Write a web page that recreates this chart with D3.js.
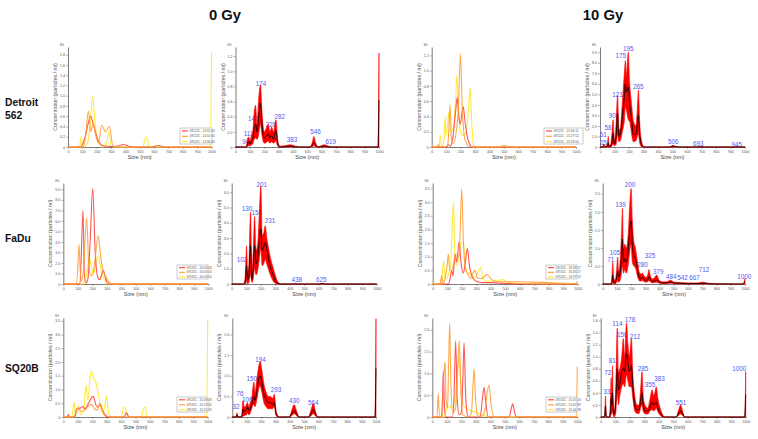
<!DOCTYPE html>
<html><head><meta charset="utf-8">
<script src="https://cdn.jsdelivr.net/npm/d3@7"></script>
<style>body{margin:0;background:#fff}svg{display:block}</style>
</head><body>
<svg id="c" width="758" height="439"></svg>
<script>
// ---------------- DATA ----------------
const columnTitles = ["0 Gy", "10 Gy"];
const rowTitles = [["Detroit", "562"], ["FaDu"], ["SQ20B"]];
const sizeTicks = [0,100,200,300,400,500,600,700,800,900,1000];
const xTitle = "Size (nm)";
const yTitle = "Concentration (particles / ml)";

// Detroit 562, 0 Gy – individual runs [size, conc]
const det0Red = [[0,0],[85,0],[100,0.05],[120,0.2],[140,0.45],[158,0.6],[175,0.45],[195,0.25],[215,0.1],[240,0.03],[300,0.01],[350,0.02],[385,0.05],[420,0.02],[460,0],[590,0],[630,0.03],[670,0],[1000,0]];
const det0Orange = [[0,0],[100,0],[120,0.15],[142,0.7],[158,0.3],[175,0.45],[195,0.2],[212,0.08],[235,0.43],[260,0.3],[290,0.4],[310,0.05],[330,0],[580,0],[620,0.03],[660,0],[1000,0]];
const det0Yellow = [[0,0],[80,0],[91,0.2],[102,0],[130,0.05],[150,0.3],[172,1.0],[190,0.4],[210,0.1],[240,0],[268,0.05],[285,0.3],[300,0.02],[320,0],[520,0],[544,0.2],[568,0],[993,0],[1000,1.85]];
const det0Legend = ["091221 - 14:52:03","091221 - 14:50:05","091221 - 14:58:44"];
// Detroit 562, 0 Gy – averaged [size, lower, mean, upper]
const det0Avg = [[0,0,0,0],[75,0,0,0],[85,0.01,0.05,0.12],[94,0.02,0.07,0.13],[100,0.01,0.04,0.08],[111,0.03,0.08,0.15],[120,0.04,0.1,0.2],[130,0.1,0.25,0.45],[140,0.12,0.3,0.55],[150,0.1,0.2,0.3],[160,0.15,0.35,0.6],[174,0.3,0.58,0.82],[185,0.15,0.3,0.45],[200,0.05,0.12,0.2],[215,0.06,0.14,0.25],[228,0.08,0.17,0.3],[240,0.05,0.12,0.2],[252,0.07,0.15,0.26],[265,0.05,0.1,0.2],[282,0.08,0.22,0.36],[295,0.01,0.04,0.08],[310,0,0,0.01],[350,0,0.005,0.02],[383,0,0.01,0.03],[420,0,0,0.01],[450,0,0,0],[520,0,0,0],[535,0,0.03,0.06],[546,0.02,0.06,0.14],[558,0,0.03,0.06],[575,0,0,0],[600,0,0.005,0.02],[619,0,0.01,0.03],[650,0,0,0.01],[680,0,0,0],[993,0,0,0],[1000,0,0.62,1.24]];
const det0Peaks = [["94",72,0.07],["111",91,0.18],["140",124,0.37],["174",178,0.84],["228",247,0.30],["282",308,0.40],["383",394,0.10],["546",557,0.21],["619",664,0.07]];

// Detroit 562, 10 Gy
const det10Red = [[0,0],[100,0],[115,0.03],[130,0.01],[145,0.1],[165,0.45],[177,0.65],[188,0.4],[198,0.3],[210,0.45],[218,0.53],[230,0.35],[245,0.15],[260,0.05],[280,0],[1000,0]];
const det10Orange = [[0,0],[30,0],[46,0.03],[60,0],[110,0],[118,0.2],[127,0.55],[137,0.1],[150,0.05],[170,0.2],[185,0.5],[199,1.22],[212,0.5],[225,0.15],[240,0.05],[270,0],[470,0],[500,0.02],[540,0],[1000,0]];
const det10Yellow = [[0,0],[50,0],[60,0.15],[70,0],[85,0.1],[92,0.4],[100,0.15],[110,0.3],[118,0.45],[130,0.2],[150,0.25],[165,0.6],[175,0.95],[185,0.5],[200,0.2],[215,0.15],[240,0.2],[255,0.5],[266,0.78],[278,0.3],[290,0.02],[300,0],[1000,0]];
const det10Legend = ["091221 - 15:26:11","091221 - 15:27:52","091221 - 15:29:04"];
const det10Avg = [[0,0,0,0],[18,0,0,0],[25,0,0.1,0.3],[33,0,0,0.05],[45,0,0.05,0.15],[51,0,0.1,0.3],[57,0,0.4,1.0],[63,0,0.05,0.1],[75,0,0.1,0.3],[82,0.1,0.5,1.2],[90,0.3,1.3,2.6],[100,0.1,0.3,0.6],[112,0.3,1.2,2.5],[121,1.2,3.2,4.9],[130,0.5,1.0,1.6],[140,0.6,1.2,1.8],[155,1.5,3.0,4.5],[168,2.5,4.8,7.0],[175,3.8,6.0,8.2],[182,3.5,5.2,6.8],[195,2.6,5.7,9.0],[205,2.4,4.0,6.0],[215,1.5,3.0,4.5],[230,0.5,1.2,2.5],[248,0.6,1.2,2.0],[258,1.0,2.2,3.8],[265,1.2,3.0,5.4],[275,0.3,1.0,2.0],[288,0,0.2,0.5],[300,0,0,0.05],[320,0,0,0],[480,0,0,0],[495,0,0.05,0.12],[506,0,0.07,0.15],[520,0,0.03,0.08],[540,0,0,0],[670,0,0,0],[693,0,0.02,0.05],[720,0,0,0],[930,0,0,0],[945,0,0.01,0.03],[960,0,0,0],[1000,0,0,0]];
const det10Peaks = [["25",23,0.44],["51",23,1.23],["58",55,1.89],["90",85,2.96],["121",120,5.03],["175",143,8.74],["195",195,9.37],["265",264,5.75],["506",506,0.57],["693",678,0.35],["945",943,0.28]];

// FaDu, 0 Gy
const fa0Red = [[0,0],[115,0],[122,2.0],[136,7.0],[145,1.0],[155,0.1],[170,0.5],[185,4.0],[203,9.1],[220,3.0],[235,0.8],[250,0.4],[262,0.8],[276,1.3],[290,0.6],[305,0.1],[320,0],[1000,0]];
const fa0Orange = [[0,0],[90,0],[100,1.5],[108,3.8],[118,1.0],[128,0.3],[140,1.5],[161,6.3],[175,2.0],[190,0.8],[205,1.0],[220,2.5],[241,4.6],[255,3.0],[270,1.5],[290,0.8],[310,0.3],[333,0],[1000,0]];
const fa0Yellow = [[0,0],[140,0],[155,0.5],[170,1.8],[182,2.3],[195,1.5],[210,1.0],[225,2.0],[241,2.7],[255,1.8],[270,0.8],[290,0.3],[300,0],[1000,0]];
const fa0Legend = ["091321 - 16:03:34","091321 - 16:02:14","091321 - 16:03:50"];
const fa0Avg = [[0,0,0,0],[85,0,0,0],[95,0,0.3,0.8],[102,0.2,1.2,2.5],[110,0,0.3,0.8],[118,0.1,0.5,1.2],[130,0.6,2.5,4.7],[140,0.1,0.3,0.8],[148,0.3,1.0,2.0],[158,1.0,2.5,4.4],[168,0.6,1.3,2.2],[178,0.8,1.6,2.5],[190,1.6,2.8,4.5],[201,2.3,3.6,6.4],[210,1.2,2.2,3.2],[220,1.3,2.4,3.3],[231,1.6,2.7,3.8],[242,1.3,2.3,3.0],[255,0.9,1.6,2.3],[270,0.5,1.0,1.6],[285,0.2,0.6,1.1],[300,0.05,0.25,0.6],[315,0,0.05,0.2],[330,0,0,0.05],[345,0,0,0],[428,0,0,0],[438,0,0.01,0.03],[450,0,0,0],[600,0,0,0],[625,0,0.02,0.05],[650,0,0,0],[1000,0,0,0]];
const fa0Peaks = [["102",71,1.59],["130",105,4.94],["158",172,4.68],["201",208,6.5],["231",264,4.13],["438",448,0.31],["625",618,0.31]];

// FaDu, 10 Gy
const fa10Red = [[0,0],[110,0],[120,0.2],[131,0.5],[140,0.3],[155,1.1],[165,0.8],[182,1.55],[195,0.8],[211,0.4],[225,0.8],[239,1.3],[255,0.6],[280,0.2],[300,0.1],[340,0.05],[400,0.05],[500,0.02],[600,0],[1000,0]];
const fa10Orange = [[0,0],[50,0],[62,0.3],[70,0],[85,0.2],[100,0.7],[108,1.1],[118,0.5],[131,0.5],[150,0.9],[166,1.1],[180,1.0],[190,2.0],[200,3.5],[212,1.5],[225,0.6],[240,0.4],[260,0.2],[278,0.4],[292,0.5],[310,0.2],[340,0.2],[360,0.3],[377,0.35],[400,0.2],[430,0.1],[470,0.08],[520,0.08],[600,0.08],[700,0.07],[800,0.05],[900,0.03],[985,0.02],[1000,0.1]];
const fa10Yellow = [[0,0],[60,0],[74,0.85],[84,0.2],[97,0.2],[110,0.4],[125,0.8],[134,2.0],[143,3.0],[152,1.2],[162,0.7],[180,0.9],[195,1.5],[211,1.5],[225,0.7],[240,0.4],[257,0.4],[275,0.2],[300,0.3],[318,0.5],[331,0.6],[345,0.2],[370,0.1],[420,0.1],[470,0.15],[487,0.15],[520,0.05],[600,0.03],[700,0.01],[800,0],[1000,0]];
const fa10Legend = ["091321 - 16:33:57","091321 - 16:35:27","091321 - 16:37:13"];
const fa10Avg = [[0,0,0,0],[60,0,0,0],[66,0,0.1,0.3],[71,0.05,0.25,0.6],[78,0,0.05,0.15],[88,0,0.05,0.1],[98,0.05,0.2,0.4],[105,0.1,0.35,0.75],[112,0.05,0.2,0.35],[122,0.1,0.3,0.6],[132,0.3,0.8,1.4],[139,0.5,1.25,2.1],[146,0.3,0.6,1.0],[155,0.4,0.7,1.1],[165,0.3,0.6,1.0],[178,0.5,0.9,1.3],[190,0.9,1.5,2.2],[200,1.1,1.75,2.65],[208,0.6,1.1,1.8],[218,0.5,0.8,1.2],[230,0.45,0.7,1.0],[245,0.2,0.4,0.6],[260,0.08,0.15,0.3],[272,0.08,0.15,0.28],[280,0.1,0.18,0.3],[292,0.06,0.12,0.22],[305,0.05,0.1,0.18],[318,0.07,0.14,0.28],[325,0.1,0.2,0.4],[335,0.06,0.12,0.22],[350,0.03,0.07,0.14],[365,0.04,0.09,0.18],[379,0.05,0.11,0.25],[395,0.03,0.06,0.12],[420,0.01,0.03,0.06],[450,0.01,0.03,0.06],[470,0.02,0.05,0.1],[484,0.02,0.05,0.1],[500,0.01,0.03,0.05],[542,0,0.02,0.04],[600,0,0.01,0.03],[667,0,0.01,0.03],[700,0,0.02,0.05],[712,0,0.02,0.05],[740,0,0.01,0.02],[800,0,0,0.01],[985,0,0,0],[1000,0,0.07,0.15]];
const fa10Peaks = [["71",56,0.69],["105",87,0.88],["139",126,2.21],["200",192,2.75],["280",279,0.53],["325",333,0.79],["379",391,0.35],["484",482,0.22],["542",560,0.17],["667",646,0.17],["712",712,0.40],["1000",995,0.22]];

// SQ20B, 0 Gy
const sq0Red = [[0,0],[28,0],[35,0.1],[42,0],[80,0],[92,0.3],[110,0.3],[134,0.38],[150,0.3],[170,0.45],[190,0.65],[208,0.75],[225,0.45],[240,0.35],[254,0.45],[268,0.3],[290,0.05],[310,0],[420,0],[437,0.15],[455,0],[1000,0]];
const sq0Orange = [[0,0],[70,0],[85,0.15],[106,0.35],[125,0.2],[150,0.25],[175,0.4],[195,0.45],[215,0.3],[235,0.25],[254,0.5],[275,0.2],[300,0.05],[320,0],[1000,0]];
const sq0Yellow = [[0,0],[60,0],[74,0.55],[85,0.1],[95,0.1],[106,0.4],[118,0.1],[140,0.2],[157,1.15],[170,0.6],[185,1.4],[196,1.65],[210,1.4],[229,1.2],[250,0.6],[275,0.1],[290,0.5],[300,0.75],[312,0.2],[330,0],[400,0],[415,0.3],[427,0.35],[440,0.1],[460,0],[540,0],[555,0.3],[566,0.35],[580,0.05],[600,0],[993,0],[1000,3.55]];
const sq0Legend = ["091321 - 15:18:43","091321 - 15:19:42","091321 - 15:21:35"];
const sq0Avg = [[0,0,0,0],[25,0,0,0],[32,0,0.05,0.1],[40,0,0,0.01],[65,0,0,0],[72,0.02,0.15,0.35],[76,0.03,0.2,0.4],[82,0.02,0.12,0.25],[90,0.05,0.15,0.25],[98,0.05,0.18,0.3],[106,0.1,0.25,0.35],[115,0.05,0.15,0.25],[125,0.1,0.2,0.35],[135,0.2,0.3,0.45],[145,0.3,0.45,0.75],[150,0.3,0.5,0.85],[158,0.25,0.4,0.6],[170,0.4,0.6,0.9],[185,0.7,0.95,1.25],[194,0.75,1.0,1.35],[205,0.6,0.85,1.15],[220,0.35,0.55,0.8],[235,0.25,0.42,0.6],[250,0.2,0.35,0.5],[265,0.2,0.35,0.5],[280,0.2,0.3,0.45],[293,0.25,0.35,0.55],[303,0.05,0.1,0.2],[315,0,0.02,0.05],[330,0,0,0],[395,0,0,0],[410,0.02,0.06,0.12],[430,0.08,0.15,0.3],[450,0.02,0.06,0.12],[465,0,0,0],[530,0,0,0],[545,0.02,0.06,0.14],[564,0.08,0.18,0.33],[580,0.02,0.06,0.12],[595,0,0,0],[993,0,0,0],[1000,0,1.18,2.38]];
const sq0Peaks = [["32",26,0.26],["76",53,0.57],["106",104,0.43],["150",135,0.94],["194",197,1.39],["293",304,0.66],["430",432,0.39],["564",564,0.34]];

// SQ20B, 10 Gy
const sq10Red = [[0,0],[62,0],[70,0.4],[76,1.05],[83,0.3],[92,0],[140,0],[150,0.5],[161,1.75],[172,0.4],[185,0.05],[200,0.1],[210,0.8],[219,1.7],[230,0.5],[245,0.02],[260,0],[330,0],[345,0.4],[357,0.68],[370,0.3],[385,0],[530,0],[545,0.2],[554,0.3],[565,0.15],[580,0],[1000,0]];
const sq10Orange = [[0,0],[32,0],[41,0.53],[50,0],[70,0],[78,0.8],[83,1.1],[88,1.27],[95,0.4],[105,0.2],[113,1.3],[120,2.15],[128,0.8],[140,0.1],[160,0.2],[175,1.1],[186,1.75],[197,0.6],[210,0.05],[250,0],[270,0.1],[280,0.7],[288,1.1],[297,0.5],[310,0.05],[340,0],[365,0.2],[380,0.6],[391,0.73],[405,0.3],[425,0],[993,0],[1000,1.15]];
const sq10Yellow = [[0,0],[80,0],[95,0.15],[105,0.22],[118,0.25],[130,0.2],[150,0.3],[165,0.7],[178,1.2],[186,1.37],[195,0.9],[210,0.3],[230,0.2],[260,0.15],[290,0.12],[310,0.1],[340,0.05],[370,0.02],[400,0],[1000,0]];
const sq10Legend = ["091321 - 15:41:13","091321 - 15:42:39","091321 - 15:44:38"];
const sq10Avg = [[0,0,0,0],[26,0,0,0],[30,0,0.1,0.2],[33,0.02,0.18,0.35],[37,0,0.05,0.1],[42,0,0,0],[60,0,0,0],[66,0,0.08,0.2],[72,0.05,0.3,0.65],[76,0.05,0.2,0.4],[81,0.1,0.4,0.85],[87,0.02,0.1,0.25],[95,0,0.05,0.1],[105,0.1,0.3,0.6],[114,0.4,0.8,1.47],[122,0.2,0.45,0.75],[132,0.35,0.55,0.8],[145,0.5,0.75,1.0],[156,0.55,0.8,1.3],[165,0.5,0.75,1.0],[178,0.7,1.05,1.56],[188,0.6,0.9,1.2],[198,0.5,0.75,1.0],[212,0.5,0.85,1.3],[222,0.3,0.5,0.7],[235,0.1,0.2,0.35],[250,0.06,0.12,0.2],[265,0.06,0.12,0.2],[275,0.15,0.28,0.45],[285,0.2,0.4,0.75],[295,0.08,0.15,0.3],[310,0.05,0.1,0.18],[325,0.05,0.1,0.15],[340,0.1,0.15,0.3],[355,0.12,0.25,0.45],[365,0.1,0.2,0.35],[375,0.12,0.22,0.42],[383,0.15,0.25,0.5],[395,0.08,0.15,0.3],[410,0.03,0.07,0.15],[425,0,0.02,0.05],[440,0,0,0],[520,0,0,0],[535,0.02,0.05,0.1],[551,0.05,0.1,0.2],[565,0.02,0.05,0.1],[580,0,0,0],[993,0,0,0],[1000,0,0.37,0.75]];
const sq10Peaks = [["33",41,0.43],["72",48,0.73],["81",80,0.93],["114",115,1.55],["156",149,1.36],["178",202,1.61],["212",237,1.34],["285",292,0.81],["355",340,0.54],["383",405,0.64],["551",554,0.24],["1000",956,0.80]];

// y-axis tick values per panel
const ytDet0Runs = [0,0.2,0.4,0.6,0.8,1.0,1.2,1.4,1.6,1.8];
const ytDet0Avg = [0,0.2,0.4,0.6,0.8,1.0,1.2];
const ytDet10Runs = [0,0.2,0.4,0.6,0.8,1.0,1.2];
const ytDet10Avg = [0,1,2,3,4,5,6,7,8,9];
const ytFa0Runs = [0,1,2,3,4,5,6,7,8,9];
const ytFa0Avg = [0,1,2,3,4,5,6];
const ytFa10Runs = [0,0.5,1.0,1.5,2.0,2.5,3.0,3.5];
const ytFa10Avg = [0,0.5,1.0,1.5,2.0,2.5];
const ytSq0Runs = [0,0.5,1.0,1.5,2.0,2.5,3.0,3.5];
const ytSq0Avg = [0,0.5,1.0,1.5,2.0];
const ytSq10Runs = [0,0.5,1.0,1.5,2.0];
const ytSq10Avg = [0,0.2,0.4,0.6,0.8,1.0,1.2,1.4,1.6];

// ---------------- DRAWING ----------------
const svg = d3.select("#c");
const FONT = "'Liberation Sans', Arial, sans-serif";
const runColors = ["#ff3a3a", "#ff9a2e", "#ffe81a"];

function frame(box, yMax, yTicks) {
  const [x0, x1, yTop, yBot] = box;
  const g = svg.append("g");
  const x = d3.scaleLinear().domain([0, 1000]).range([x0, x1]);
  const y = d3.scaleLinear().domain([0, yMax]).range([yBot, yTop]);
  const fmt = v => v === 0 ? "0" : d3.format(".1f")(v);
  const ax = g.append("g").attr("transform", `translate(0,${yBot})`)
    .call(d3.axisBottom(x).tickValues(sizeTicks).tickFormat(d3.format("d")).tickSize(1.8).tickSizeOuter(0).tickPadding(1.2));
  const ay = g.append("g").attr("transform", `translate(${x0},0)`)
    .call(d3.axisLeft(y).tickValues(yTicks).tickFormat(fmt).tickSize(1.8).tickSizeOuter(0).tickPadding(1.2));
  [ax, ay].forEach(a => {
    a.selectAll("path.domain").attr("stroke", "#444").attr("stroke-width", 0.7);
    a.selectAll(".tick line").attr("stroke", "#555").attr("stroke-width", 0.5);
    a.selectAll(".tick text").attr("font-size", 3.6).attr("fill", "#555").attr("font-family", FONT);
  });
  g.append("text").attr("x", (x0 + x1) / 2).attr("y", yBot + 11.5)
    .attr("text-anchor", "middle").attr("font-size", 5.6).attr("fill", "#444")
    .attr("font-family", FONT).text(xTitle);
  g.append("text").attr("transform", `translate(${x0 - 11},${(yTop + yBot) / 2}) rotate(-90)`)
    .attr("text-anchor", "middle").attr("font-size", 5.3).attr("fill", "#555")
    .attr("font-family", FONT).text(yTitle);
  g.append("text").attr("x", x0 - 8).attr("y", yTop - 1).attr("font-size", 3.2)
    .attr("fill", "#666").attr("font-family", FONT).text("E6");
  return { g, x, y };
}

function runsPanel(box, yMax, yTicks, runs, legendText, leg) {
  const { g, x, y } = frame(box, yMax, yTicks);
  const line = d3.line().x(d => x(d[0])).y(d => y(d[1])).curve(d3.curveMonotoneX);
  [2, 0, 1].forEach(i => {
    g.append("path").attr("d", line(runs[i])).attr("fill", "none")
      .attr("stroke", runColors[i]).attr("stroke-width", 1.1).attr("stroke-opacity", 0.85);
  });
  // legend
  const [lx, ly, lw, lh] = leg;
  const lg = g.append("g");
  lg.append("rect").attr("x", lx).attr("y", ly).attr("width", lw).attr("height", lh)
    .attr("fill", "#fff").attr("stroke", "#999").attr("stroke-width", 0.5);
  legendText.forEach((t, i) => {
    const yy = ly + lh * (i + 0.5) / 3 + 0.3;
    lg.append("line").attr("x1", lx + 2).attr("x2", lx + 8).attr("y1", yy).attr("y2", yy)
      .attr("stroke", runColors[i]).attr("stroke-width", 1.1);
    lg.append("text").attr("x", lx + 9.5).attr("y", yy).attr("dominant-baseline", "central")
      .attr("font-size", 3.1).attr("fill", "#555").attr("font-family", FONT).text(t);
  });
}

function avgPanel(box, yMax, yTicks, pts, peaks) {
  const { g, x, y } = frame(box, yMax, yTicks);
  g.selectAll("text.peak").data(peaks).enter().append("text").attr("class", "peak")
    .attr("x", d => x(d[1])).attr("y", d => y(d[2]))
    .attr("text-anchor", "middle").attr("dominant-baseline", "central")
    .attr("font-size", 6.3).attr("fill", "#4f5cf2").attr("font-family", FONT)
    .text(d => d[0]);
  const area = d3.area().x(d => x(d[0])).y0(d => y(d[1])).y1(d => y(d[3])).curve(d3.curveMonotoneX);
  const mean = d3.line().x(d => x(d[0])).y(d => y(d[2])).curve(d3.curveMonotoneX);
  g.append("path").attr("d", area(pts)).attr("fill", "#ff0000").attr("stroke", "#ff0000")
    .attr("stroke-width", 0.6);
  g.append("path").attr("d", mean(pts)).attr("fill", "none").attr("stroke", "#000")
    .attr("stroke-width", 0.8);
}

// row 1 – Detroit 562
runsPanel([68, 211.5, 47, 147], 1.95, ytDet0Runs, [det0Red, det0Orange, det0Yellow], det0Legend, [180, 128, 32, 16]);
avgPanel([235.5, 379, 47, 147], 1.32, ytDet0Avg, det0Avg, det0Peaks);
runsPanel([431.7, 576, 47, 147], 1.31, ytDet10Runs, [det10Red, det10Orange, det10Yellow], det10Legend, [544, 128, 39, 16]);
avgPanel([600, 745, 47, 147], 9.5, ytDet10Avg, det10Avg, det10Peaks);
// row 2 – FaDu
runsPanel([63.3, 208.3, 183, 284], 9.6, ytFa0Runs, [fa0Red, fa0Orange, fa0Yellow], fa0Legend, [177, 265, 31, 14]);
avgPanel([231.7, 376.7, 183, 284], 6.6, ytFa0Avg, fa0Avg, fa0Peaks);
runsPanel([432.7, 577.7, 183, 284], 3.7, ytFa10Runs, [fa10Red, fa10Orange, fa10Yellow], fa10Legend, [546, 265, 31, 14]);
avgPanel([602.7, 745, 183, 284], 2.8, ytFa10Avg, fa10Avg, fa10Peaks);
// row 3 – SQ20B
runsPanel([63.3, 207.7, 318, 417], 3.6, ytSq0Runs, [sq0Red, sq0Orange, sq0Yellow], sq0Legend, [177, 397, 31, 15]);
avgPanel([232.3, 376, 318, 417], 2.4, ytSq0Avg, sq0Avg, sq0Peaks);
runsPanel([432.3, 577.3, 318, 417], 2.27, ytSq10Runs, [sq10Red, sq10Orange, sq10Yellow], sq10Legend, [546, 397, 31, 15]);
avgPanel([600.7, 745.7, 318, 417], 1.64, ytSq10Avg, sq10Avg, sq10Peaks);

// titles
const titleX = [225, 603];
columnTitles.forEach((t, i) => svg.append("text").attr("x", titleX[i]).attr("y", 20)
  .attr("text-anchor", "middle").attr("font-size", 14.8).attr("font-weight", "bold")
  .attr("font-family", FONT).attr("fill", "#111").text(t));
const rowY = [106, 241.5, 372];
rowTitles.forEach((lines, r) => lines.forEach((t, k) => svg.append("text")
  .attr("x", 5).attr("y", rowY[r] + k * 12.5).attr("font-size", 10.3).attr("font-weight", "bold")
  .attr("font-family", FONT).attr("fill", "#111").text(t)));
</script>
</body></html>
